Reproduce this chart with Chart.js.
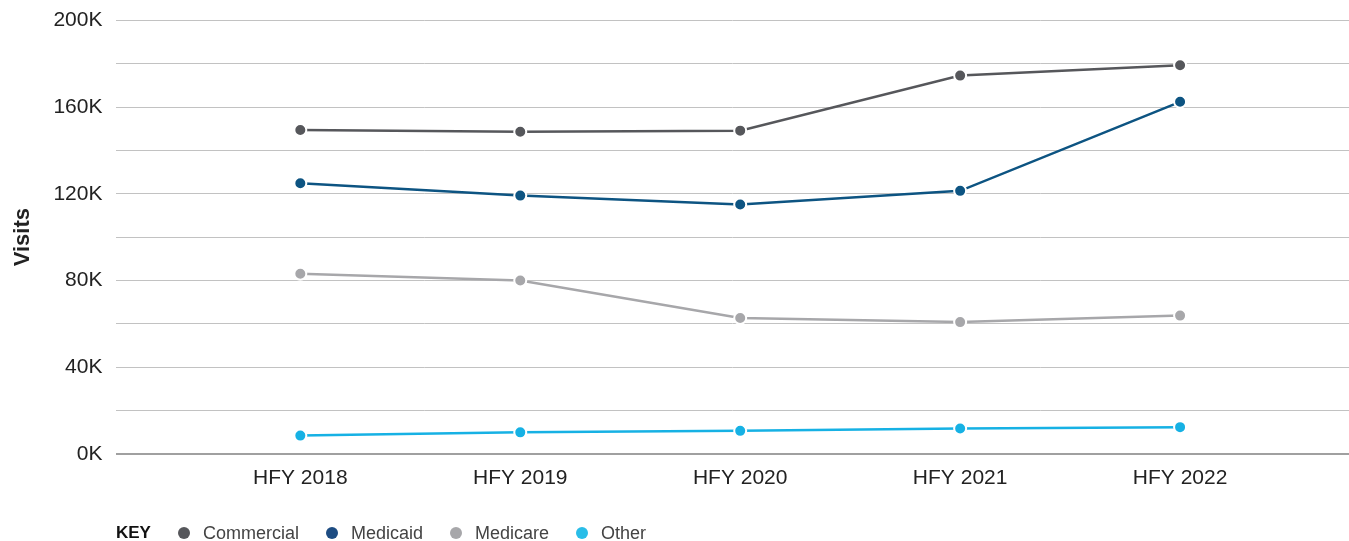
<!DOCTYPE html>
<html>
<head>
<meta charset="utf-8">
<script src="https://cdn.jsdelivr.net/npm/chart.js@4/dist/chart.umd.min.js"></script>
<style>
  html, body { margin: 0; padding: 0; background: #fff; }
  body { width: 1349px; height: 541px; position: relative; overflow: hidden; font-family: "Liberation Sans", Arial, Helvetica, sans-serif; }
  #wrap { position: absolute; left: 0; top: -6px; width: 1357px; height: 541px; }
  .legend { position: absolute; left: 116px; top: 521px; height: 24px; display: flex; align-items: center; color: #444; font-size: 18px; }
  .legend .key { font-weight: bold; font-size: 17px; color: #111; margin-right: 27px; }
  .legend .dot { width: 12px; height: 12px; border-radius: 50%; margin-right: 13px; }
  .legend .lbl { margin-right: 27px; }
</style>
</head>
<body>
<div id="wrap"><canvas id="chart" width="1357" height="541"></canvas></div>
<div class="legend" id="legend"><span class="key">KEY</span></div>
<script>
// categories and series (visits)
const categories = ['HFY 2018', 'HFY 2019', 'HFY 2020', 'HFY 2021', 'HFY 2022'];
const commercial = [149500, 148700, 149200, 174600, 179400];
const medicaid = [124900, 119200, 115100, 121400, 162500];
const medicare = [83100, 80000, 62700, 60800, 63800];
const other = [8400, 9900, 10600, 11700, 12300];
const seriesNames = ['Commercial', 'Medicaid', 'Medicare', 'Other'];
const seriesColors = ['#56575b', '#0d5482', '#a7a7aa', '#16b1e4'];
const legendColors = ['#56575b', '#1d4c82', '#a7a7aa', '#29bde8'];
const yTicks = [0, 40000, 80000, 120000, 160000, 200000];

const toPoints = arr => arr.map((v, i) => ({ x: i, y: v }));
const allSeries = [commercial, medicaid, medicare, other];

const datasets = allSeries.map((arr, i) => ({
  label: seriesNames[i],
  data: toPoints(arr),
  borderColor: seriesColors[i],
  backgroundColor: seriesColors[i],
  borderWidth: 2.5,
  pointRadius: 6,
  pointBorderColor: '#fff',
  pointBorderWidth: 2,
  pointBackgroundColor: seriesColors[i],
  tension: 0
}));

// legend
const legendEl = document.getElementById('legend');
seriesNames.forEach((n, i) => {
  legendEl.insertAdjacentHTML('beforeend',
    `<span class="dot" style="background:${legendColors[i]}"></span><span class="lbl">${n}</span>`);
});

const font = { family: '"Liberation Sans", Arial, Helvetica, sans-serif', size: 21 };

new Chart(document.getElementById('chart').getContext('2d'), {
  type: 'line',
  data: { datasets },
  options: {
    responsive: false,
    animation: false,
    layout: { padding: { top: 4, right: 0, bottom: 40, left: 10 } },
    plugins: { legend: { display: false }, tooltip: { enabled: false } },
    scales: {
      x: {
        type: 'linear',
        min: -0.836,
        max: 4.768,
        grid: { display: false },
        border: { display: false },
        afterBuildTicks: scale => { scale.ticks = categories.map((c, i) => ({ value: i })); },
        ticks: {
          autoSkip: false,
          maxRotation: 0,
          padding: 4,
          color: '#222',
          font,
          callback: v => categories[v]
        }
      },
      y: {
        min: 0,
        max: 200000,
        border: { display: false },
        grid: {
          drawTicks: false,
          color: ctx => ctx.tick && ctx.tick.value === 0 ? '#a0a0a0' : '#c2c2c2',
          lineWidth: ctx => ctx.tick && ctx.tick.value === 0 ? 2 : 1
        },
        ticks: {
          stepSize: 20000,
          padding: 14,
          color: '#222',
          font,
          callback: v => yTicks.includes(v) ? (v / 1000) + 'K' : ''
        },
        title: {
          display: true,
          text: 'Visits',
          color: '#222',
          padding: { top: 0, bottom: 3 },
          font: { family: font.family, size: 22, weight: 'bold' }
        }
      }
    }
  }
});
</script>
</body>
</html>
